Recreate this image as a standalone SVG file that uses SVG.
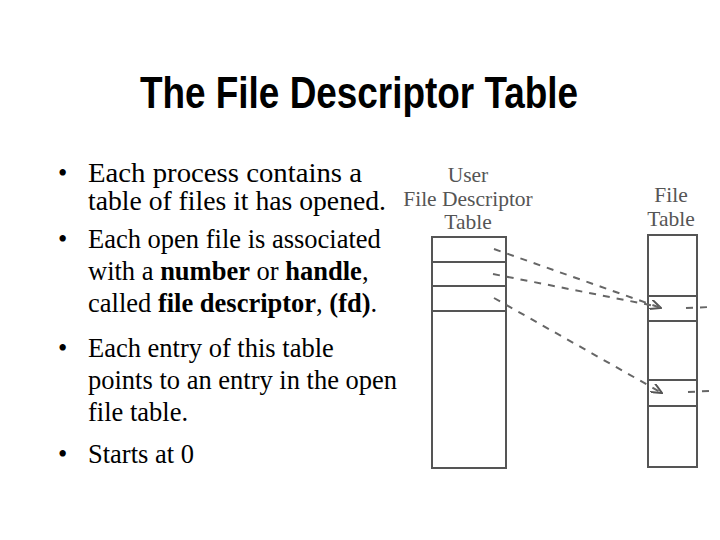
<svg xmlns="http://www.w3.org/2000/svg" width="720" height="540" viewBox="0 0 720 540">
<style>
.t{font-family:"Liberation Serif",serif;font-size:26.5px;fill:#000}
.d{font-family:"Liberation Serif",serif;font-size:21.5px;fill:#555;text-anchor:middle}
.box{fill:none;stroke:#555;stroke-width:2}
.ln{stroke:#555;stroke-width:2}
.dash{stroke:#666;stroke-width:2;stroke-dasharray:7 7;fill:none}
</style>
<defs><marker id="ah" markerWidth="12" markerHeight="10" refX="11" refY="5" orient="auto" markerUnits="userSpaceOnUse"><path d="M0,0 L11,5 L0,10" fill="none" stroke="#555" stroke-width="2"/></marker></defs>
<rect width="720" height="540" fill="#fff"/>
<text x="140" y="108" textLength="438" lengthAdjust="spacingAndGlyphs" style="font-family:'Liberation Sans Narrow','Liberation Sans',sans-serif;font-weight:bold;font-size:44px">The File Descriptor Table</text>
<g id="bullets">
<text class="t" x="58" y="182">•</text><text class="t" x="88" y="182" textLength="274" lengthAdjust="spacingAndGlyphs">Each process  contains a</text>
<text class="t" x="88" y="210" textLength="298" lengthAdjust="spacingAndGlyphs">table of files it has opened.</text>
<text class="t" x="58" y="248">•</text><text class="t" x="88" y="248">Each open file is associated</text>
<text class="t" x="88" y="280">with a <tspan font-weight="bold">number</tspan> or <tspan font-weight="bold">handle</tspan>,</text>
<text class="t" x="88" y="312">called <tspan font-weight="bold">file descriptor</tspan>, <tspan font-weight="bold">(fd)</tspan>.</text>
<text class="t" x="58" y="357">•</text><text class="t" x="88" y="357">Each entry of this table</text>
<text class="t" x="88" y="389">points to an entry in the open</text>
<text class="t" x="88" y="421">file table.</text>
<text class="t" x="58" y="463">•</text><text class="t" x="88" y="463">Starts at 0</text>
</g>
<g id="ufdt">
<text class="d" x="468" y="182">User</text>
<text class="d" x="468" y="206">File Descriptor</text>
<text class="d" x="468" y="229">Table</text>
<rect class="box" x="432" y="237" width="74" height="231"/>
<line class="ln" x1="432" y1="262" x2="506" y2="262"/>
<line class="ln" x1="432" y1="286" x2="506" y2="286"/>
<line class="ln" x1="432" y1="311" x2="506" y2="311"/>
</g>
<g id="filetable">
<text class="d" x="671" y="202">File</text>
<text class="d" x="671" y="226">Table</text>
<rect class="box" x="648" y="235" width="49" height="232"/>
<line class="ln" x1="648" y1="296" x2="697" y2="296"/>
<line class="ln" x1="648" y1="321" x2="697" y2="321"/>
<line class="ln" x1="648" y1="380" x2="697" y2="380"/>
<line class="ln" x1="648" y1="406" x2="697" y2="406"/>
</g>
<g id="connectors">
<line class="dash" x1="494" y1="249" x2="661" y2="308" marker-end="url(#ah)"/>
<line class="dash" x1="493" y1="274" x2="660" y2="307"/>
<line class="dash" x1="494" y1="298" x2="662" y2="393" marker-end="url(#ah)"/>
<line class="dash" x1="686" y1="308" x2="710" y2="307"/>
<line class="dash" x1="688" y1="392" x2="710" y2="391"/>
</g>
</svg>
